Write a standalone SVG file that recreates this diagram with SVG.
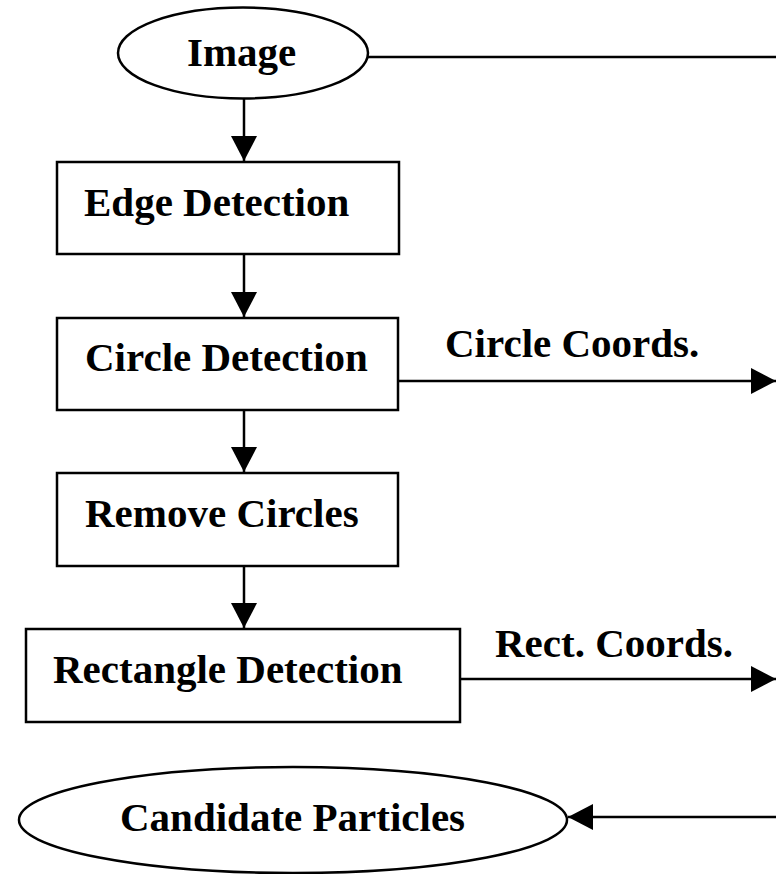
<svg xmlns="http://www.w3.org/2000/svg" width="776" height="874" viewBox="0 0 776 874">
<defs>
<style>
.n{fill:#fff;stroke:#000;stroke-width:2.5}
.t{font-family:"Liberation Serif","Times New Roman",serif;font-weight:bold;font-size:41px;fill:#000}
.c{stroke:#000;stroke-width:2.5;fill:none}
</style>
<marker id="ah" markerUnits="userSpaceOnUse" markerWidth="26" markerHeight="26" refX="25" refY="13" orient="auto" viewBox="0 0 26 26">
<path d="M0,0 L25,13 L0,26 Z" fill="#000"/>
</marker>
</defs>
<rect width="776" height="874" fill="#fff"/>
<g id="connectors">
<line class="c" x1="368" y1="57" x2="776" y2="57"/>
<line class="c" x1="244" y1="98" x2="244" y2="161" marker-end="url(#ah)"/>
<line class="c" x1="244" y1="254" x2="244" y2="317" marker-end="url(#ah)"/>
<line class="c" x1="244" y1="410" x2="244" y2="472" marker-end="url(#ah)"/>
<line class="c" x1="244" y1="566" x2="244" y2="628" marker-end="url(#ah)"/>
<line class="c" x1="393" y1="381" x2="776" y2="381" marker-end="url(#ah)"/>
<line class="c" x1="455" y1="679" x2="776" y2="679" marker-end="url(#ah)"/>
<line class="c" x1="776" y1="817" x2="568" y2="817" marker-end="url(#ah)"/>
<text class="t" x="445" y="357">Circle Coords.</text>
<text class="t" x="495" y="657">Rect. Coords.</text>
</g>
<g id="image">
<ellipse class="n" cx="243" cy="53" rx="125" ry="45.5"/>
<text class="t" x="187" y="66">Image</text>
</g>
<g id="edge-detection">
<rect class="n" x="57" y="162" width="342" height="92"/>
<text class="t" x="84" y="216">Edge Detection</text>
</g>
<g id="circle-detection">
<rect class="n" x="57" y="318" width="341" height="92"/>
<text class="t" x="85" y="371">Circle Detection</text>
</g>
<g id="remove-circles">
<rect class="n" x="57" y="473" width="341" height="93"/>
<text class="t" x="85" y="527">Remove Circles</text>
</g>
<g id="rectangle-detection">
<rect class="n" x="26" y="629" width="434" height="93"/>
<text class="t" x="53" y="683">Rectangle Detection</text>
</g>
<g id="candidate-particles">
<ellipse class="n" cx="293" cy="820" rx="274" ry="53"/>
<text class="t" x="120" y="831">Candidate Particles</text>
</g>
</svg>
